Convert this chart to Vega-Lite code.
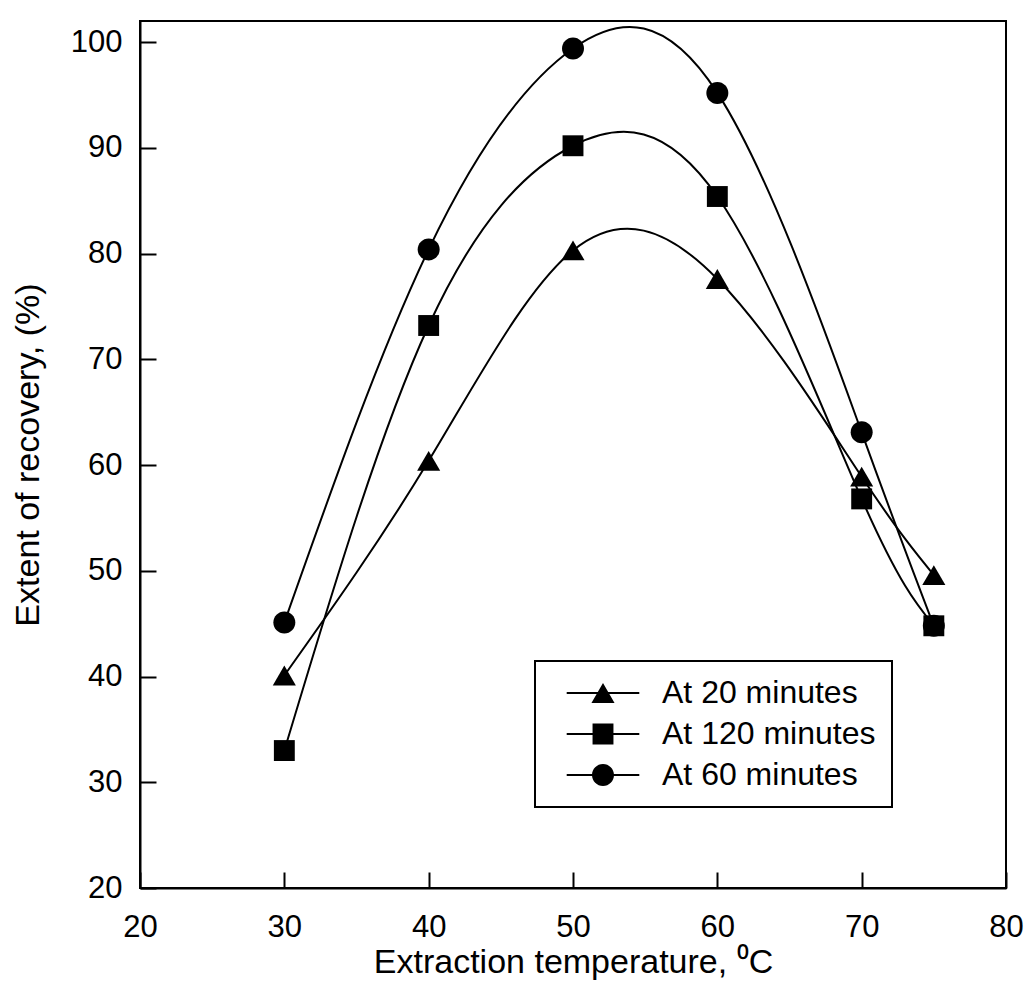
{
  "$schema": "https://vega.github.io/schema/vega-lite/v6.json",
  "width": 866,
  "height": 867,
  "autosize": {"type": "none"},
  "padding": {"left": 140, "top": 21, "right": 29, "bottom": 120},
  "background": "white",
  "config": {
    "font": "Liberation Sans",
    "view": {"stroke": "black", "strokeWidth": 2},
    "legend": {"strokeWidth": 2},
    "axis": {
      "domainColor": "black",
      "domainWidth": 2,
      "tickColor": "black",
      "tickWidth": 2,
      "labelFontSize": 31,
      "labelColor": "black",
      "labelFont": "Liberation Sans",
      "labelFlush": false,
      "titleFontSize": 34,
      "titleFontWeight": "normal",
      "titleColor": "black",
      "titleFont": "Liberation Sans",
      "grid": false
    }
  },
  "data": {
    "values": [
      {"temp": 30, "recovery": 40.1, "series": "At 20 minutes"},
      {"temp": 40, "recovery": 60.4, "series": "At 20 minutes"},
      {"temp": 50, "recovery": 80.3, "series": "At 20 minutes"},
      {"temp": 60, "recovery": 77.6, "series": "At 20 minutes"},
      {"temp": 70, "recovery": 58.9, "series": "At 20 minutes"},
      {"temp": 75, "recovery": 49.6, "series": "At 20 minutes"},
      {"temp": 30, "recovery": 33.0, "series": "At 120 minutes"},
      {"temp": 40, "recovery": 73.2, "series": "At 120 minutes"},
      {"temp": 50, "recovery": 90.2, "series": "At 120 minutes"},
      {"temp": 60, "recovery": 85.4, "series": "At 120 minutes"},
      {"temp": 70, "recovery": 56.8, "series": "At 120 minutes"},
      {"temp": 75, "recovery": 44.8, "series": "At 120 minutes"},
      {"temp": 30, "recovery": 45.1, "series": "At 60 minutes"},
      {"temp": 40, "recovery": 80.4, "series": "At 60 minutes"},
      {"temp": 50, "recovery": 99.4, "series": "At 60 minutes"},
      {"temp": 60, "recovery": 95.2, "series": "At 60 minutes"},
      {"temp": 70, "recovery": 63.1, "series": "At 60 minutes"},
      {"temp": 75, "recovery": 44.8, "series": "At 60 minutes"}
    ]
  },
  "layer": [
    {
      "mark": {"type": "line", "interpolate": "natural", "color": "black", "strokeWidth": 2},
      "encoding": {
        "x": {
          "field": "temp",
          "type": "quantitative",
          "scale": {"domain": [20, 80], "nice": false, "zero": false},
          "axis": {
            "orient": "bottom",
            "values": [20, 30, 40, 50, 60, 70, 80],
            "title": "Extraction temperature, ⁰C",
            "ticks": false,
            "tickSize": 0,
            "labelPadding": 24,
            "titlePadding": 3
          }
        },
        "y": {
          "field": "recovery",
          "type": "quantitative",
          "scale": {"domain": [20, 102], "nice": false, "zero": false},
          "axis": {
            "orient": "left",
            "values": [20, 30, 40, 50, 60, 70, 80, 90, 100],
            "title": "Extent of recovery, (%)",
            "ticks": false,
            "tickSize": 0,
            "labelPadding": 18,
            "titlePadding": 25
          }
        },
        "detail": {"field": "series"}
      }
    },
    {
      "mark": {"type": "point", "filled": true, "opacity": 1, "color": "black", "size": 484},
      "encoding": {
        "x": {
          "field": "temp",
          "type": "quantitative",
          "scale": {"domain": [20, 80], "nice": false, "zero": false},
          "axis": {
            "orient": "top",
            "offset": -867,
            "values": [20, 30, 40, 50, 60, 70, 80],
            "title": null,
            "labels": false,
            "domain": false,
            "ticks": true,
            "tickSize": 16
          }
        },
        "y": {
          "field": "recovery",
          "type": "quantitative",
          "scale": {"domain": [20, 102], "nice": false, "zero": false},
          "axis": {
            "orient": "right",
            "offset": -866,
            "values": [20, 30, 40, 50, 60, 70, 80, 90, 100],
            "title": null,
            "labels": false,
            "domain": false,
            "ticks": true,
            "tickSize": 16
          }
        },
        "shape": {
          "field": "series",
          "type": "nominal",
          "scale": {
            "domain": ["At 20 minutes", "At 120 minutes", "At 60 minutes"],
            "range": [
              "M0,-0.9L1.05,0.9L-1.05,0.9Z",
              "M-0.95,-0.95H0.95V0.95H-0.95Z",
              "M1,0A1,1,0,1,1,-1,0A1,1,0,1,1,1,0Z"
            ]
          },
          "legend": null
        }
      }
    },
    {
      "mark": {"type": "point", "filled": true, "opacity": 1, "color": "black", "size": 0},
      "encoding": {
        "x": {
          "field": "temp",
          "type": "quantitative",
          "scale": {"domain": [20, 80], "nice": false, "zero": false},
          "axis": null
        },
        "y": {
          "field": "recovery",
          "type": "quantitative",
          "scale": {"domain": [20, 102], "nice": false, "zero": false},
          "axis": null
        },
        "shape": {
          "field": "series",
          "type": "nominal",
          "scale": {
            "domain": ["At 20 minutes", "At 120 minutes", "At 60 minutes"],
            "range": [
              "M0,-0.9L1.05,0.9L-1.05,0.9Z M-3.3,-0.09H3.3V0.09H-3.3Z",
              "M-0.95,-0.95H0.95V0.95H-0.95Z M-3.3,-0.09H3.3V0.09H-3.3Z",
              "M1,0A1,1,0,1,1,-1,0A1,1,0,1,1,1,0Z M-3.3,-0.09H3.3V0.09H-3.3Z"
            ]
          },
          "legend": {
            "title": null,
            "orient": "none",
            "legendX": 395,
            "legendY": 640,
            "padding": 16,
            "strokeColor": "black",
            "labelFontSize": 32,
            "labelFont": "Liberation Sans",
            "labelColor": "black",
            "labelLimit": 500,
            "symbolSize": 484,
            "symbolOffset": 36,
            "labelOffset": 43,
            "rowPadding": 9,
            "symbolFillColor": "black"
          }
        }
      }
    }
  ],
  "resolve": {
    "scale": {"shape": "independent"},
    "legend": {"shape": "independent"},
    "axis": {"x": "independent", "y": "independent"}
  }
}
